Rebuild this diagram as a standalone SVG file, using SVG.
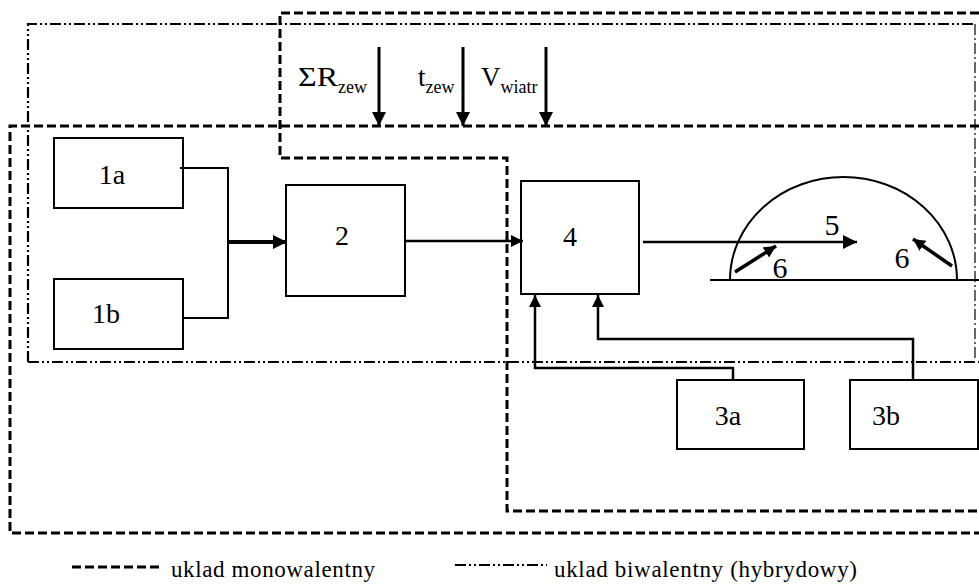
<svg xmlns="http://www.w3.org/2000/svg" width="979" height="586" viewBox="0 0 979 586" font-family="'Liberation Serif','Times New Roman',serif">
<style>
text{font-family:"Liberation Serif","Times New Roman",serif;fill:#000}
.lbl{font-size:28px;text-anchor:middle}
.big{font-size:30px;text-anchor:middle}
.sym{font-size:27px}
.sub{font-size:18px}
.leg{font-size:23px}
.box{fill:#fff;stroke:#000;stroke-width:2}
.ln{fill:none;stroke:#000;stroke-width:2}
.dash{fill:none;stroke:#000;stroke-width:3;stroke-dasharray:9 4}
.dd{fill:none;stroke:#000;stroke-width:2.2;stroke-dasharray:11 3 2 3 2 3}
.ddr{fill:none;stroke:#000;stroke-width:1.2;stroke-dasharray:11 3 2 3}
</style>
<defs>
<marker id="ah" viewBox="0 0 14 14" refX="14" refY="7" markerWidth="14" markerHeight="14" markerUnits="userSpaceOnUse" orient="auto"><path d="M0,0 L14,7 L0,14 z" fill="#000"/></marker>
<marker id="ahs" viewBox="0 0 12 12" refX="12" refY="6" markerWidth="12" markerHeight="12" markerUnits="userSpaceOnUse" orient="auto"><path d="M0,0 L12,6 L0,12 z" fill="#000"/></marker>
</defs>
<rect width="979" height="586" fill="#fff"/>

<g id="boundaries">
<path class="dash" d="M979,126 H10 V533 H979"/>
<path class="dash" d="M979,13 H280 V158 H507 V511 H979"/>
<path class="dd" d="M28,362 V24 H975"/>
<path class="ddr" d="M975,24 V358"/>
<path class="dd" d="M28,362 H979"/>
</g>

<g id="inputs">
<text class="sym" x="298" y="86"><tspan textLength="40" lengthAdjust="spacingAndGlyphs">ΣR</tspan><tspan class="sub" dy="7">zew</tspan></text>
<text class="sym" x="418" y="86">t<tspan class="sub" dy="7">zew</tspan></text>
<text class="sym" x="481" y="86">V<tspan class="sub" dy="7">wiatr</tspan></text>
</g>

<g id="node-1a"><rect class="box" x="54" y="138" width="129" height="70"/><text class="lbl" x="112" y="184">1a</text></g>
<g id="node-1b"><rect class="box" x="54" y="279" width="129" height="70"/><text class="lbl" x="106" y="323">1b</text></g>
<g id="node-2"><rect class="box" x="286" y="185" width="119" height="111"/><text class="lbl" x="342" y="245">2</text></g>
<g id="node-4"><rect class="box" x="521" y="181" width="118" height="113"/><text class="lbl" x="570" y="246">4</text></g>
<g id="node-3a"><rect class="box" x="677" y="380" width="127" height="69"/><text class="lbl" x="728" y="425">3a</text></g>
<g id="node-3b"><rect class="box" x="850" y="380" width="128" height="69"/><text class="lbl" x="886" y="425">3b</text></g>
<g id="node-5">
<path class="ln" d="M710,280 H979"/>
<path class="ln" d="M730,280 A113.5,103 0 0 1 957,280"/>
<text class="big" x="832" y="235">5</text>
<text class="big" x="780" y="278">6</text>
<text class="big" x="902" y="268">6</text>
</g>

<g id="connectors">
<line class="ln" x1="379" y1="47" x2="379" y2="126" style="stroke-width:3" marker-end="url(#ah)"/>
<line class="ln" x1="463" y1="47" x2="463" y2="126" style="stroke-width:3" marker-end="url(#ah)"/>
<line class="ln" x1="546" y1="47" x2="546" y2="126" style="stroke-width:3" marker-end="url(#ah)"/>
<path class="ln" d="M180,168 H228 V318 H183"/>
<line class="ln" x1="228" y1="242" x2="287" y2="242" style="stroke-width:4" marker-end="url(#ah)"/>
<line class="ln" x1="405" y1="241" x2="523" y2="241" style="stroke-width:2.5" marker-end="url(#ahs)"/>
<line class="ln" x1="643" y1="242" x2="857" y2="242" style="stroke-width:2.5" marker-end="url(#ah)"/>
<line class="ln" x1="735" y1="272" x2="776" y2="246" style="stroke-width:3.5" marker-end="url(#ahs)"/>
<line class="ln" x1="952" y1="266" x2="913" y2="239" style="stroke-width:3.5" marker-end="url(#ahs)"/>
<path class="ln" d="M733,380 V368 H535 V295" style="stroke-width:2.5" marker-end="url(#ahs)"/>
<path class="ln" d="M913,380 V339 H598 V295" style="stroke-width:2.5" marker-end="url(#ahs)"/>
</g>

<g id="legend">
<line class="dash" x1="72" y1="567" x2="162" y2="567"/>
<text class="leg" x="171" y="577" textLength="204" lengthAdjust="spacing">uklad monowalentny</text>
<line class="dd" x1="455" y1="565" x2="547" y2="565"/>
<text class="leg" x="554" y="577" textLength="303" lengthAdjust="spacing">uklad biwalentny (hybrydowy)</text>
</g>
</svg>
